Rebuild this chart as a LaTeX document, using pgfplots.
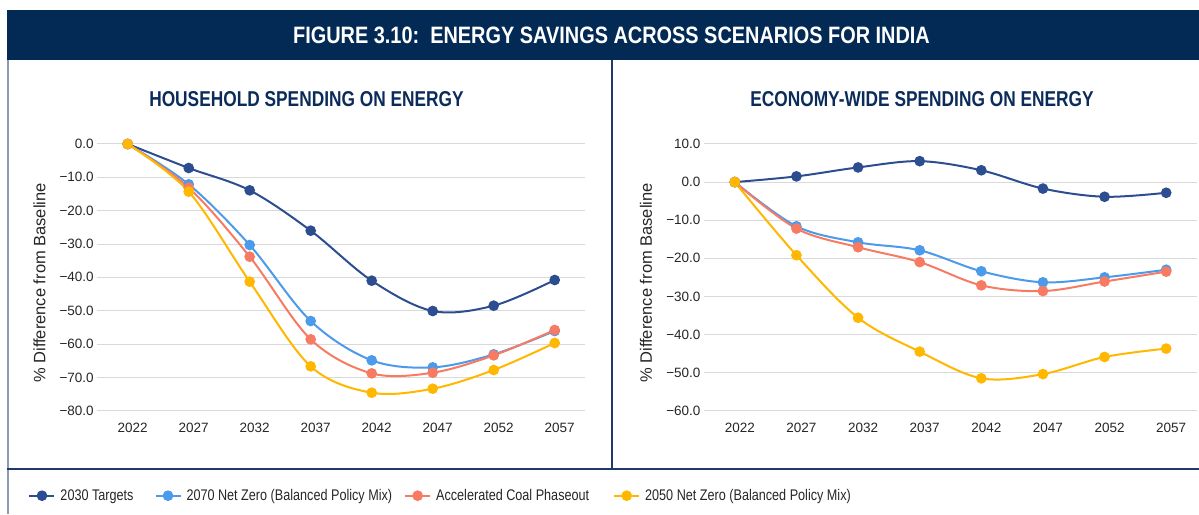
\documentclass[border=0pt]{standalone}
\usepackage{pgfplots}
\pgfplotsset{compat=1.18}
\usepackage{fontspec}
\setmainfont{Liberation Sans}
\newfontfamily\condfont{Liberation Sans}[FakeStretch=0.82]
\newfontfamily\titlecond{Liberation Sans}[FakeStretch=0.84]
\newfontfamily\subcond{Liberation Sans}[FakeStretch=0.805]
\definecolor{barnavy}{HTML}{022A55}
\definecolor{subnavy}{HTML}{0B2C5A}
\definecolor{linenavy}{HTML}{1F3A68}
\definecolor{bordergrey}{HTML}{8A9BB5}
\definecolor{gridc}{HTML}{D9D9D9}
\definecolor{tickc}{HTML}{262626}
\definecolor{cA}{HTML}{2C4E91}
\definecolor{cB}{HTML}{4C9AEA}
\definecolor{cC}{HTML}{F77B62}
\definecolor{cD}{HTML}{FFB700}
\pgfplotsset{
  myaxis/.style={
    scale only axis, height=266.7pt, anchor=south west,
    xmin=-0.5, xmax=7.5,
    xtick={0,...,7}, xticklabels={2022,2027,2032,2037,2042,2047,2052,2057},
    axis line style={draw=none}, tick style={draw=none}, major tick length=0pt,
    ymajorgrids, grid style={color=gridc, line width=1pt},
    ticklabel style={font=\fontsize{13.5}{15}\selectfont, text=tickc},
    xticklabel style={yshift=-9pt, xshift=5pt},
    clip=false,
    ylabel={\% Difference from Baseline},
    ylabel style={font=\fontsize{16.5}{19}\selectfont, text=tickc, at={(axis description cs:-0.106,0.479)}, anchor=base},
    every axis plot/.append style={smooth, tension=0.55, line width=2pt, mark=*, mark size=4.3pt, mark options={solid}},
  }
}
\begin{document}
\begin{tikzpicture}
\path[use as bounding box] (0,0) rectangle (1199pt,514pt);
\fill[barnavy] (7.3pt,454pt) rectangle (1199pt,504pt);
\node[anchor=base, text=white, font=\fontsize{23.7}{26}\titlecond\bfseries] at (611.5pt,470.7pt) {FIGURE 3.10:\ \ ENERGY SAVINGS ACROSS SCENARIOS FOR INDIA};
\node[anchor=base, text=subnavy, font=\fontsize{21.5}{24}\subcond\bfseries] at (306.5pt,407.3pt) {HOUSEHOLD SPENDING ON ENERGY};
\node[anchor=base, text=subnavy, font=\fontsize{21.5}{24}\subcond\bfseries] at (922pt,407.3pt) {ECONOMY-WIDE SPENDING ON ENERGY};
\draw[bordergrey, line width=2pt] (8pt,0pt) -- (8pt,454pt);
\draw[linenavy, line width=2pt] (612pt,45pt) -- (612pt,454pt);
\draw[linenavy, line width=2pt] (7pt,45pt) -- (1199pt,45pt);

\begin{axis}[myaxis, at={(97.2pt,103.3pt)}, width=488pt,
  ymin=-80, ymax=0, ytick={-80,-70,...,0},
  yticklabels={−80.0,−70.0,−60.0,−50.0,−40.0,−30.0,−20.0,−10.0,0.0},
  legend columns=4,
  legend cell align=left,
  legend style={at={(axis description cs:-0.1412,-0.3187)}, anchor=west, draw=none, fill=none,
    inner sep=0pt, font=\fontsize{15.4}{18}\condfont, text=tickc,
    nodes={inner sep=0pt},
    /tikz/column 1/.style={column sep=5pt},
    /tikz/column 2/.style={column sep=21pt},
    /tikz/column 3/.style={column sep=5pt},
    /tikz/column 4/.style={column sep=12pt},
    /tikz/column 5/.style={column sep=5pt},
    /tikz/column 6/.style={column sep=24pt},
    /tikz/column 7/.style={column sep=5pt}},
  legend image code/.code={\draw[mark repeat=2,mark phase=2] plot coordinates {(0pt,0pt) (12.5pt,0pt) (25pt,0pt)};},
]
\addplot[cA, mark options={fill=cA}] coordinates {(0,0) (1,-7.2) (2,-13.9) (3,-26.0) (4,-41.0) (5,-50.1) (6,-48.5) (7,-40.8)};
\addlegendentry{2030 Targets}
\addplot[cB, mark options={fill=cB}] coordinates {(0,0) (1,-12.1) (2,-30.3) (3,-53.1) (4,-64.9) (5,-67.0) (6,-63.1) (7,-56.1)};
\addlegendentry{2070 Net Zero (Balanced Policy Mix)}
\addplot[cC, mark options={fill=cC}] coordinates {(0,0) (1,-13.1) (2,-33.8) (3,-58.6) (4,-68.8) (5,-68.6) (6,-63.4) (7,-55.8)};
\addlegendentry{Accelerated Coal Phaseout}
\addplot[cD, mark options={fill=cD}] coordinates {(0,0) (1,-14.3) (2,-41.3) (3,-66.7) (4,-74.6) (5,-73.4) (6,-67.8) (7,-59.7)};
\addlegendentry{2050 Net Zero (Balanced Policy Mix)}
\end{axis}

\begin{axis}[myaxis, at={(704pt,103.3pt)}, width=493pt,
  ymin=-60, ymax=10, ytick={-60,-50,...,10},
  yticklabels={−60.0,−50.0,−40.0,−30.0,−20.0,−10.0,0.0,10.0},
]
\addplot[cA, mark options={fill=cA}] coordinates {(0,0) (1,1.5) (2,3.85) (3,5.5) (4,3.1) (5,-1.7) (6,-3.85) (7,-2.8)};
\addplot[cB, mark options={fill=cB}] coordinates {(0,0) (1,-11.6) (2,-15.8) (3,-17.9) (4,-23.4) (5,-26.3) (6,-25.0) (7,-23.0)};
\addplot[cC, mark options={fill=cC}] coordinates {(0,0) (1,-12.2) (2,-17.1) (3,-21.0) (4,-27.1) (5,-28.6) (6,-26.1) (7,-23.5)};
\addplot[cD, mark options={fill=cD}] coordinates {(0,0) (1,-19.2) (2,-35.6) (3,-44.5) (4,-51.5) (5,-50.4) (6,-45.9) (7,-43.7)};
\end{axis}
\end{tikzpicture}
\end{document}
